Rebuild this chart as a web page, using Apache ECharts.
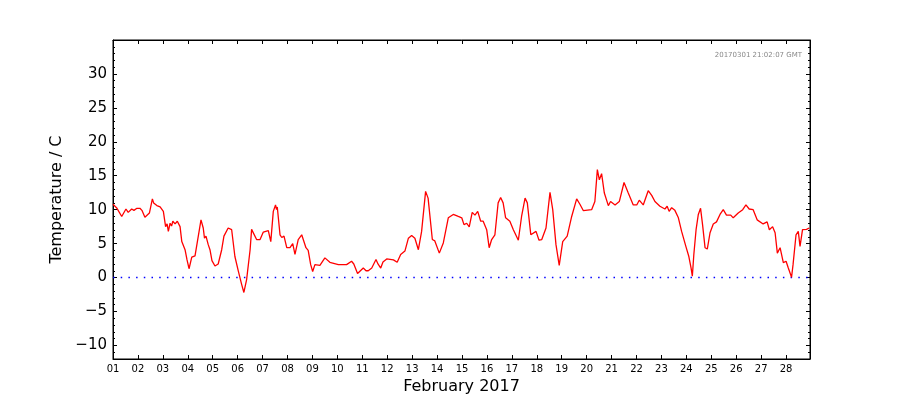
<!DOCTYPE html>
<html>
<head>
<meta charset="utf-8">
<script src="https://cdn.jsdelivr.net/npm/echarts@6/dist/echarts.min.js"></script>
<style>html,body{margin:0;padding:0;background:#fff}#c{width:900px;height:400px}</style>
</head>
<body>
<div id="c"></div>
<script>
// Time as fractional day of February 2017
const days = [1.00,1.04,1.16,1.35,1.52,1.61,1.75,1.84,1.96,2.08,2.16,2.28,2.46,2.58,2.63,2.68,2.76,2.89,3.02,3.11,3.17,3.22,3.29,3.35,3.40,3.49,3.58,3.69,3.76,3.89,3.97,4.05,4.16,4.29,4.36,4.53,4.62,4.67,4.73,4.82,4.89,4.97,5.09,5.22,5.36,5.45,5.62,5.76,5.89,6.03,6.16,6.25,6.36,6.50,6.56,6.63,6.76,6.90,7.03,7.23,7.33,7.43,7.52,7.56,7.59,7.70,7.77,7.86,7.97,8.10,8.21,8.30,8.43,8.57,8.63,8.74,8.83,8.93,9.01,9.10,9.30,9.50,9.70,10.04,10.37,10.57,10.66,10.81,11.04,11.15,11.24,11.38,11.55,11.63,11.74,11.83,11.98,12.25,12.40,12.54,12.71,12.85,12.98,13.11,13.25,13.38,13.54,13.64,13.81,13.91,14.09,14.25,14.45,14.65,14.85,14.99,15.08,15.19,15.29,15.41,15.52,15.63,15.75,15.85,15.99,16.09,16.19,16.32,16.45,16.55,16.65,16.75,16.92,17.06,17.26,17.39,17.53,17.62,17.76,17.97,18.09,18.20,18.37,18.53,18.64,18.77,18.90,19.04,19.22,19.40,19.60,19.73,19.87,20.20,20.33,20.43,20.51,20.60,20.71,20.87,20.96,21.14,21.31,21.50,21.67,21.87,22.01,22.11,22.27,22.47,22.61,22.74,22.94,23.14,23.23,23.31,23.41,23.54,23.68,23.81,23.98,24.10,24.19,24.24,24.30,24.39,24.48,24.57,24.65,24.75,24.84,24.95,25.08,25.21,25.35,25.48,25.61,25.78,25.88,26.08,26.26,26.39,26.52,26.68,26.84,27.08,27.24,27.33,27.46,27.56,27.65,27.76,27.89,28.00,28.09,28.22,28.28,28.40,28.49,28.56,28.66,28.82,28.93];
const temps = [10.8,10.7,10.2,9.0,10.1,9.6,10.1,9.9,10.2,10.2,9.9,8.9,9.5,11.6,11.0,11.2,10.6,10.4,9.75,7.5,7.9,6.8,8.0,7.6,8.3,7.9,8.3,7.5,5.3,4.1,2.6,1.3,3.0,3.2,3.0,8.5,7.3,5.8,6.1,4.85,4.1,2.5,1.7,2.0,4.1,6.1,7.3,7.05,3.1,0.9,-1.0,-2.2,-0.3,4.1,7.1,7.2,5.6,5.6,6.7,6.9,5.3,9.75,10.7,10.0,10.4,6.3,5.9,6.1,4.4,4.4,5.0,3.4,5.6,6.3,6.1,4.4,4.0,1.9,0.9,1.9,1.8,2.9,2.25,1.9,1.9,2.4,2.0,0.6,1.4,1.0,1.0,1.4,2.65,2.0,1.4,2.3,2.75,2.6,2.25,3.4,3.9,5.8,6.2,5.8,4.1,6.8,12.7,11.7,5.6,5.4,3.6,5.1,8.8,9.3,9.0,8.8,7.8,8.0,7.45,9.6,9.2,9.75,8.3,8.3,7.05,4.4,5.6,6.3,11.0,11.8,11.0,8.8,8.3,7.05,5.5,9.0,11.7,11.0,6.3,6.8,5.5,5.6,7.3,12.55,10.0,4.85,1.8,5.3,6.1,9.0,11.6,10.8,9.85,10.0,11.2,15.9,14.4,15.3,12.45,10.6,11.2,10.7,11.2,14.0,12.45,10.7,10.7,11.4,10.7,12.8,12.1,11.2,10.5,10.1,10.5,9.75,10.3,9.9,8.8,6.8,4.6,3.1,1.4,0.2,3.4,7.05,9.3,10.2,7.8,4.4,4.2,6.6,7.9,8.2,9.3,10.0,9.2,9.2,8.8,9.5,10.0,10.7,10.1,10.0,8.5,7.9,8.2,7.05,7.5,6.6,3.6,4.4,2.2,2.4,1.4,0.05,1.9,6.3,6.8,4.6,7.05,7.1,7.3];
const yTickValues = [-10,-5,0,5,10,15,20,25,30];
const xTitle = 'February 2017';
const yTitle = 'Temperature / C';
const stampText = '20170301 21:02:07 GMT';

const FONT = 'DejaVu Sans';
const tempData = days.map((d, i) => [d, temps[i]]);
const zeroData = [[days[0], 0], [days[days.length - 1], 0]];
const xMin = 1, xMax = 28.96, yMin = -12, yMax = 35;

const chart = echarts.init(document.getElementById('c'), null, {renderer: 'canvas'});
const tickStyle = {color: '#000', width: 1};
const lineSt = {show: true, onZero: false, lineStyle: {color: '#000'}};
chart.setOption({
  animation: false,
  backgroundColor: '#fff',
  grid: {left: 113, right: 90, top: 40, bottom: 40, show: true, borderColor: '#000', borderWidth: 1, backgroundColor: 'transparent'},
  xAxis: [
    {type: 'value', position: 'bottom', min: xMin, max: xMax, interval: 1,
     axisLine: lineSt,
     axisTick: {show: true, inside: true, length: 4, lineStyle: tickStyle},
     axisLabel: {show: true, color: '#000', fontSize: 10, fontFamily: FONT, margin: 5, showMaxLabel: false,
       formatter: v => String(Math.round(v)).padStart(2, '0')},
     splitLine: {show: false},
     name: xTitle, nameLocation: 'middle', nameGap: 20,
     nameTextStyle: {color: '#000', fontSize: 16, fontFamily: FONT}},
    {type: 'value', position: 'top', min: xMin, max: xMax, interval: 1,
     axisLine: lineSt,
     axisTick: {show: true, inside: true, length: 4, lineStyle: tickStyle},
     axisLabel: {show: false}, splitLine: {show: false}}
  ],
  yAxis: [
    {type: 'value', position: 'left', min: yMin, max: yMax,
     axisLine: lineSt,
     axisTick: {show: true, inside: true, length: 4, lineStyle: tickStyle, customValues: yTickValues},
     axisLabel: {show: true, color: '#000', fontSize: 15, fontFamily: FONT, margin: 6, customValues: yTickValues,
       formatter: v => String(v).replace('-', '\u2212')},
     splitLine: {show: false},
     name: yTitle, nameLocation: 'middle', nameGap: 47,
     nameTextStyle: {color: '#000', fontSize: 16, fontFamily: FONT}},
    {type: 'value', position: 'right', min: yMin, max: yMax,
     axisLine: lineSt,
     axisTick: {show: true, inside: true, length: 4, lineStyle: tickStyle, customValues: yTickValues},
     axisLabel: {show: false}, splitLine: {show: false}},
    {type: 'value', position: 'left', min: yMin, max: yMax, interval: 1,
     axisLine: {show: false, onZero: false},
     axisTick: {show: true, inside: true, length: 2, lineStyle: tickStyle},
     axisLabel: {show: false}, splitLine: {show: false}},
    {type: 'value', position: 'right', min: yMin, max: yMax, interval: 1,
     axisLine: {show: false, onZero: false},
     axisTick: {show: true, inside: true, length: 2, lineStyle: tickStyle},
     axisLabel: {show: false}, splitLine: {show: false}}
  ],
  series: [
    {type: 'line', name: 'zero', xAxisIndex: 0, yAxisIndex: 0, data: zeroData, showSymbol: false, silent: true,
     lineStyle: {color: '#0000ff', width: 1.5, type: [1.5, 6.2]}, z: 1},
    {type: 'line', name: 'temperature', xAxisIndex: 0, yAxisIndex: 0, data: tempData, showSymbol: false,
     lineStyle: {color: '#ff0000', width: 1.3}, z: 2}
  ],
  graphic: [
    {type: 'text', style: {text: stampText, x: 802, y: 55, align: 'right', verticalAlign: 'middle',
      fill: '#888', fontSize: 7, fontFamily: FONT}}
  ]
});
</script>
</body>
</html>
